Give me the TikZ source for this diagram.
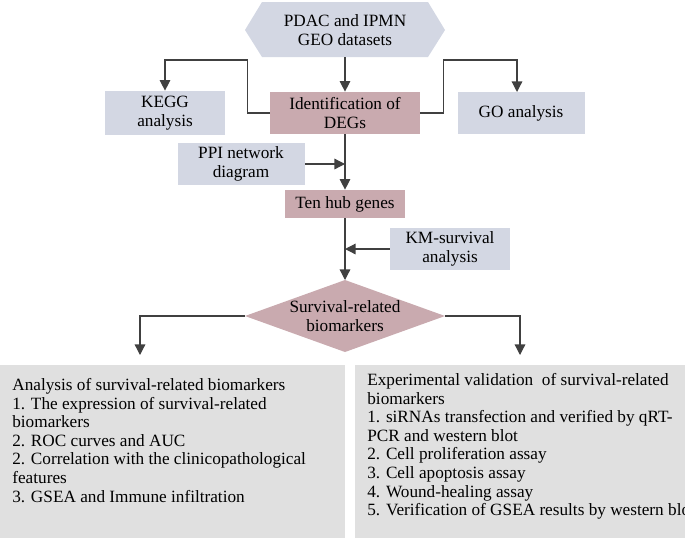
\documentclass[tikz,border=0pt]{standalone}
\usepackage{fontspec}
\setmainfont{Liberation Serif}
\usetikzlibrary{arrows.meta}
\definecolor{bluegrey}{HTML}{D3D7E3}
\definecolor{mauve}{HTML}{C9AAAF}
\definecolor{panelgrey}{HTML}{E0E0E0}
\begin{document}
\begin{tikzpicture}[x=0.02cm,y=-0.02cm,>={Triangle[length=6pt,width=6pt]},
  font=\fontsize{9.8}{10.6}\selectfont,
  box/.style={rectangle,fill=bluegrey,align=center,inner sep=0pt},
  key/.style={rectangle,fill=mauve,align=center,inner sep=0pt},
  panel/.style={rectangle,align=left,anchor=north west,inner sep=0pt},
  link/.style={draw=black!75,line width=0.7pt,->}]
\useasboundingbox (0,0) rectangle (685,538);
% top
\fill[bluegrey] (245,30)--(262,2)--(428,2)--(445,30)--(428,57)--(262,57)--cycle;
\node[align=center] (geo) at (345,30) {PDAC and IPMN\\GEO datasets};
\node[key,minimum width=150*0.02cm,minimum height=42*0.02cm] (deg) at (345,113) {Identification of\\DEGs};
\node[box,minimum width=120*0.02cm,minimum height=44*0.02cm] (kegg) at (165,113) {KEGG\\analysis};
\node[box,minimum width=127*0.02cm,minimum height=42*0.02cm] (go) at (521,113) {GO analysis};
\node[box,minimum width=127*0.02cm,minimum height=42*0.02cm] (ppi) at (241,164) {PPI network\\diagram};
\node[key,minimum width=120*0.02cm,minimum height=28*0.02cm] (hub) at (345,204) {Ten hub genes};
\node[box,minimum width=120*0.02cm,minimum height=42*0.02cm] (km) at (450,249) {KM-survival\\analysis};
\fill[mauve] (245,316)--(345,280)--(445,316)--(345,352)--cycle;
\node[align=center] (surv) at (345,316) {Survival-related\\biomarkers};
\coordinate (dtop) at (345,280);
\coordinate (dleft) at (245,316);
\coordinate (dright) at (445,316);
\coordinate (gbot) at (345,57);
% panels
\fill[panelgrey] (0,365) rectangle (345,538);
\fill[panelgrey] (355,365) rectangle (685,538);
\node[panel] (left) at (12,378) {Analysis of survival-related biomarkers\\
1. The expression of survival-related\\biomarkers\\
2. ROC curves and AUC\\
2. Correlation with the clinicopathological\\features\\
3. GSEA and Immune infiltration};
\node[panel] (right) at (367,373) {Experimental validation\ \ of survival-related\\biomarkers\\
1. siRNAs transfection and verified by qRT-\\PCR and western blot\\
2. Cell proliferation assay\\
3. Cell apoptosis assay\\
4. Wound-healing assay\\
5. Verification of GSEA results by western blot};
\coordinate (lt) at (140,355);
\coordinate (rt) at (520,355);
% links
\draw[link] (gbot) -- (deg.north);
\draw[link] (deg.west) -- ++(-22,0) |- (165,60) -- (kegg.north);
\draw[link] (deg.east) -- ++(23,0) |- (517,60) -- (517,92);
\draw[link] (ppi.east) -- (345,164);
\draw[link] (deg.south) -- (hub.north);
\draw[link] (km.west) -- (345,249);
\draw[link] (hub.south) -- (dtop);
\draw[link] (dleft) -| (lt);
\draw[link] (dright) -| (rt);
\end{tikzpicture}
\end{document}
